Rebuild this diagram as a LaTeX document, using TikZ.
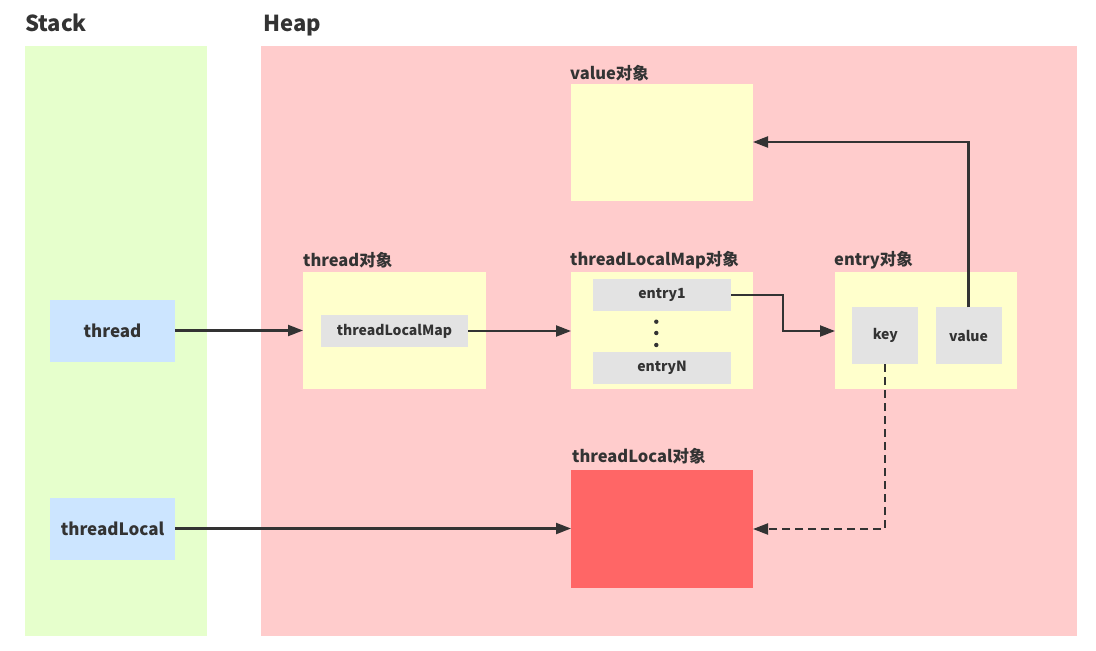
\documentclass[tikz,border=0pt]{standalone}
\usepackage{fontspec}
\setmainfont{Noto Sans CJK SC}
\usetikzlibrary{arrows.meta}
\definecolor{txt}{HTML}{333333}
\definecolor{stackc}{HTML}{E6FFCC}
\definecolor{heapc}{HTML}{FFCCCC}
\definecolor{objc}{HTML}{FFFFCC}
\definecolor{cellc}{HTML}{E3E3E3}
\definecolor{bluec}{HTML}{CCE5FF}
\definecolor{redc}{HTML}{FF6666}
\tikzset{
  box/.style={anchor=north west, inner sep=0pt, outer sep=0pt, draw=none, text=txt, font=\bfseries\fontsize{14}{16}\selectfont},
  title/.style={anchor=base west, inner sep=0pt, text=txt, font=\bfseries\fontsize{22}{26}\selectfont},
  lbl/.style={anchor=west, inner sep=0pt, text=txt, font=\bfseries\fontsize{16.5}{19}\selectfont},
  conn/.style={draw=txt, line width=2.2pt, -{Triangle[length=15pt,width=11pt]}},
  dconn/.style={conn, dash pattern=on 8pt off 5pt},
}
\begin{document}
\begin{tikzpicture}[x=1pt,y=-1pt]
\useasboundingbox (0,0) rectangle (1096,651);
% regions
\node[box, fill=stackc, minimum width=182pt, minimum height=590pt] (stack) at (25,46) {};
\node[box, fill=heapc, minimum width=816pt, minimum height=590pt] (heap) at (261,46) {};
\node[title] (stacklbl) at (25,31) {Stack};
\node[title] (heaplbl) at (263,31) {Heap};
% stack boxes
\node[box, fill=bluec, minimum width=125pt, minimum height=62pt, font=\bfseries\fontsize{17}{20}\selectfont] (thread) at (50,299.5) {thread};
\node[box, fill=bluec, minimum width=125pt, minimum height=62pt, font=\bfseries\fontsize{17}{20}\selectfont] (tl) at (50,497.5) {threadLocal};
% value object
\node[lbl] (vlbl) at (570,73) {value对象};
\node[box, fill=objc, minimum width=182pt, minimum height=117pt] (vobj) at (571,84) {};
% thread object
\node[lbl] (tlbl) at (303,260) {thread对象};
\node[box, fill=objc, minimum width=183pt, minimum height=117pt] (tobj) at (303,272) {};
\node[box, fill=cellc, minimum width=147pt, minimum height=32pt] (tlm) at (321,315) {threadLocalMap};
% threadLocalMap object
\node[lbl] (mlbl) at (570,260) {threadLocalMap对象};
\node[box, fill=objc, minimum width=182pt, minimum height=117pt] (mobj) at (571,272) {};
\node[box, fill=cellc, minimum width=138pt, minimum height=32pt] (e1) at (593,279) {entry1};
\node[box, fill=cellc, minimum width=138pt, minimum height=32pt] (eN) at (593,352) {entryN};
\fill[txt] (656.3,321.7) circle (2.2pt) (656.3,333) circle (2.2pt) (656.3,345) circle (2.2pt);
% entry object
\node[lbl] (elbl) at (834,260) {entry对象};
\node[box, fill=objc, minimum width=182pt, minimum height=117pt] (eobj) at (835,272) {};
\node[box, fill=cellc, minimum width=66pt, minimum height=57pt] (key) at (852.3,307.3) {key};
\node[box, fill=cellc, minimum width=66pt, minimum height=57pt] (val) at (935.5,307.3) {value};
% threadLocal object
\node[lbl] (rlbl) at (572,456) {threadLocal对象};
\node[box, fill=redc, minimum width=182pt, minimum height=118pt] (robj) at (571,470) {};
% connectors
\coordinate (c1) at (783,295);
\draw[conn] (thread.east) -- (tobj.west |- thread.east);
\draw[conn] (tlm.east) -- (mobj.west |- tlm.east);
\draw[conn] (e1.east) -- (c1) |- (eobj.west |- 0,331);
\draw[conn] (val.north) |- (vobj.east |- 0,142);
\draw[conn] (tl.east) -- (robj.west |- tl.east);
\draw[dconn] (key.south) |- (robj.east |- 0,529);
\end{tikzpicture}
\end{document}
